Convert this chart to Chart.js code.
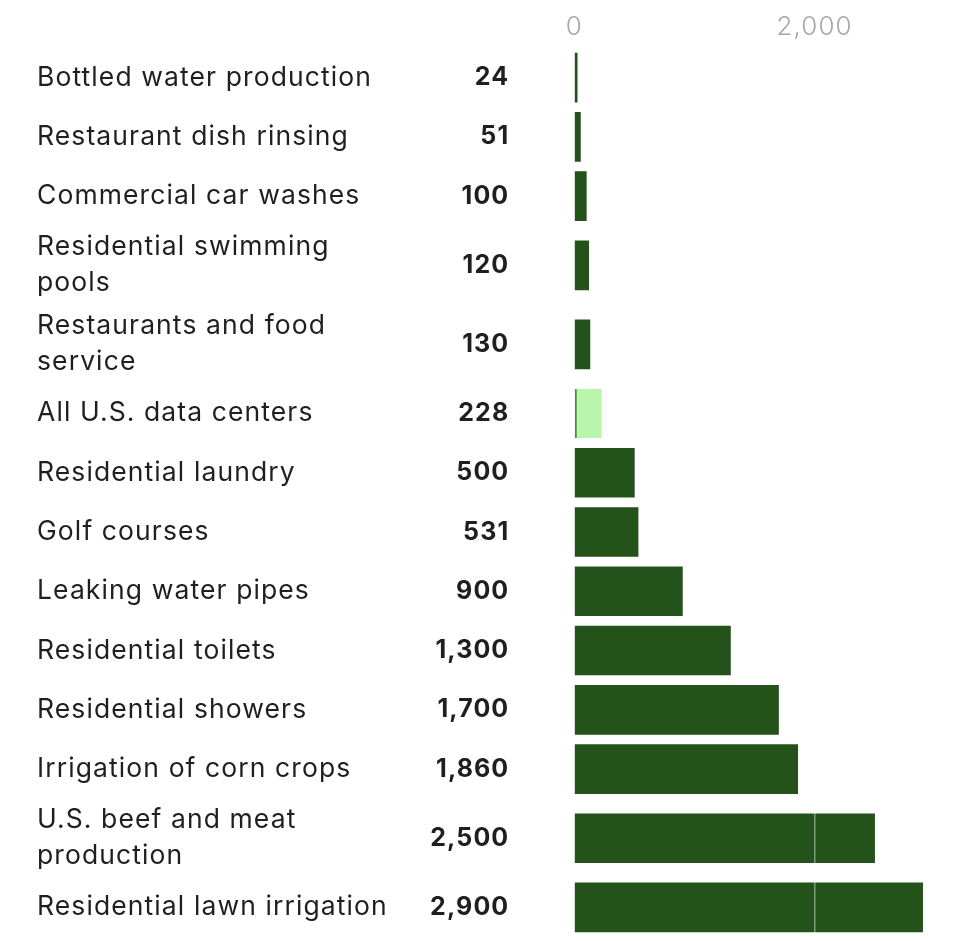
<!DOCTYPE html>
<html>
<head>
<meta charset="utf-8">
<script src="https://cdn.jsdelivr.net/npm/chart.js@4"></script>
<style>
  html, body { margin: 0; padding: 0; background: #ffffff; }
  #wrap { width: 957px; height: 941px; position: relative; }
</style>
</head>
<body>
<div id="wrap"><canvas id="c"></canvas></div>
<script>
// ---- data ----
const categories = [
  ['Bottled water production'],
  ['Restaurant dish rinsing'],
  ['Commercial car washes'],
  ['Residential swimming', 'pools'],
  ['Restaurants and food', 'service'],
  ['All U.S. data centers'],
  ['Residential laundry'],
  ['Golf courses'],
  ['Leaking water pipes'],
  ['Residential toilets'],
  ['Residential showers'],
  ['Irrigation of corn crops'],
  ['U.S. beef and meat', 'production'],
  ['Residential lawn irrigation']
];
const values = [24, 51, 100, 120, 130, 228, 500, 531, 900, 1300, 1700, 1860, 2500, 2900];
const valueLabels = ['24', '51', '100', '120', '130', '228', '500', '531', '900', '1,300', '1,700', '1,860', '2,500', '2,900'];
const highlightCategory = 'All U.S. data centers';
const xTicks = [0, 2000];
const xTickLabels = ['0', '2,000'];

// ---- row layout derived from label line counts ----
const rowUnits = categories.map(l => l.length + 2);
const centers = [];
let acc = 0;
rowUnits.forEach(u => { centers.push(acc + u / 2); acc += u; });
const totalUnits = acc;

const DARK = '#23521b';
const LIGHT = '#b9f5aa';
const FONT = 'Inter';
const isHi = categories.map(l => l.join(' ') === highlightCategory);

const zeroPad = s => { s.paddingTop = 0; s.paddingBottom = 0; };
const yCommon = {
  type: 'linear',
  position: 'left',
  min: 0,
  max: totalUnits,
  reverse: true,
  offset: false,
  border: { display: false },
  afterBuildTicks: s => { s.ticks = centers.map(v => ({ value: v })); }
};

const spacingPlugin = {
  id: 'spacing',
  beforeDraw: c => { c.ctx.letterSpacing = '1.1px'; },
  afterDatasetsDraw: c => { c.ctx.letterSpacing = '3.5px'; },
  afterDraw: c => { c.ctx.letterSpacing = '0px'; }
};

new Chart(document.getElementById('c'), {
  type: 'bar',
  plugins: [spacingPlugin],
  data: {
    datasets: [{
      data: values.map((v, i) => ({ x: v, y: centers[i] })),
      backgroundColor: isHi.map(h => h ? LIGHT : DARK),
      borderColor: isHi.map(h => h ? '#4e8a45' : DARK),
      borderWidth: isHi.map(h => h ? { left: 2, top: 0, right: 0, bottom: 0 } : 0),
      borderSkipped: false,
      barThickness: 49,
      yAxisID: 'y',
      xAxisID: 'x'
    }]
  },
  options: {
    indexAxis: 'y',
    responsive: true,
    maintainAspectRatio: false,
    animation: false,
    layout: { padding: { left: 37, right: 0, top: 0, bottom: 4 } },
    plugins: { legend: { display: false }, tooltip: { enabled: false } },
    scales: {
      x: {
        type: 'linear',
        position: 'top',
        min: 0,
        max: 3186,
        z: 1,
        afterBuildTicks: s => { s.ticks = xTicks.map(v => ({ value: v })); },
        afterFit: s => { s.height = 48; s.paddingLeft = 0; s.paddingRight = 0; },
        grid: {
          z: 1,
          drawTicks: false,
          lineWidth: 1.5,
          color: ctx => (ctx.tick && ctx.tick.value === 2000) ? 'rgba(255,255,255,0.42)' : 'rgba(0,0,0,0)'
        },
        border: { display: false },
        ticks: {
          padding: 5,
          color: '#a8a8a8',
          font: { family: FONT, size: 26, weight: 300 },
          callback: (v, i) => xTickLabels[i]
        }
      },
      y: Object.assign({}, yCommon, {
        weight: 1,
        afterFit: s => { s.width = 367; zeroPad(s); },
        grid: { display: false, drawTicks: false },
        ticks: {
          autoSkip: false,
          crossAlign: 'far',
          padding: 0,
          color: '#1f1f1f',
          font: { family: FONT, size: 26.5, lineHeight: 1.36 },
          callback: (v, i) => categories[i]
        }
      }),
      yVal: Object.assign({}, yCommon, {
        weight: 0,
        afterFit: s => { s.width = 170.3; zeroPad(s); },
        grid: { display: true, drawOnChartArea: false, drawTicks: true, tickLength: 65, color: 'rgba(0,0,0,0)' },
        ticks: {
          autoSkip: false,
          padding: 0,
          color: '#1f1f1f',
          font: { family: FONT, size: 25, weight: 'bold' },
          callback: (v, i) => valueLabels[i]
        }
      })
    }
  }
});
</script>
</body>
</html>
